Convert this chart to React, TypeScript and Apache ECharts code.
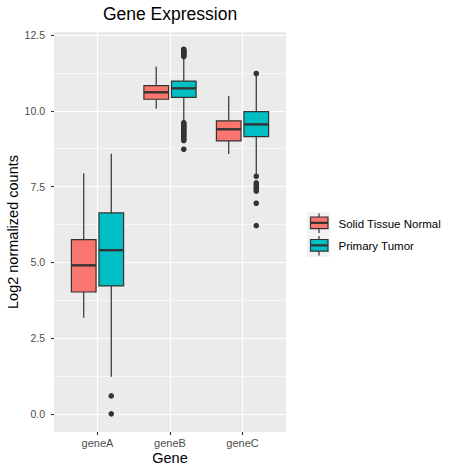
import React, { useEffect, useRef } from "react";
import * as echarts from "echarts";

const genes = ["geneA", "geneB", "geneC"];
const groups = ["Solid Tissue Normal", "Primary Tumor"];
const groupColors = ["#F8766D", "#00BFC4"];

// [lower whisker, Q1, median, Q3, upper whisker] per gene
const normalStats = [
  [3.17, 4.02, 4.9, 5.75, 7.94],
  [10.07, 10.38, 10.61, 10.83, 11.46],
  [8.57, 9.01, 9.39, 9.67, 10.49],
];
const tumorStats = [
  [1.22, 4.22, 5.4, 6.63, 8.58],
  [9.66, 10.44, 10.74, 10.98, 11.74],
  [7.9, 9.15, 9.55, 9.97, 11.15],
];
// outliers per gene
const normalOutliers: number[][] = [[], [], []];
const tumorOutliers: number[][] = [
  [0.59, 0.0],
  [12.03, 12.0, 11.97, 11.94, 11.91, 11.88, 11.85, 11.82, 11.79, 9.61, 9.57, 9.53, 9.49, 9.45, 9.41, 9.37, 9.33, 9.29, 9.25, 9.2, 9.15, 9.1, 9.06, 9.02, 8.73],
  [11.23, 7.84, 7.62, 7.55, 7.48, 7.41, 7.35, 6.95, 6.21],
];

const yMajorTicks = [0, 2.5, 5, 7.5, 10, 12.5];
const yMinorTicks = [1.25, 3.75, 6.25, 8.75, 11.25];
const xTicks = [1, 2, 3];

const FONT = "Liberation Sans, Arial, Helvetica, sans-serif";
const DODGE = 0.19;
const BOX_W = 0.34;
const DARK = "#333333";

function boxSeries(stats: number[][], gi: number) {
  const offset = gi === 0 ? -DODGE : DODGE;
  return {
    type: "custom",
    z: 5,
    silent: true,
    data: stats.map((s, i) => [i + 1, ...s]),
    renderItem: (params: any, api: any) => {
      const x = api.value(0) + offset;
      const lo = api.coord([x, api.value(1)]);
      const q1 = api.coord([x, api.value(2)]);
      const med = api.coord([x, api.value(3)]);
      const q3 = api.coord([x, api.value(4)]);
      const hi = api.coord([x, api.value(5)]);
      const w = api.size([BOX_W, 0])[0];
      const cx = lo[0];
      return {
        type: "group",
        children: [
          { type: "line", shape: { x1: cx, y1: hi[1], x2: cx, y2: q3[1] }, style: { stroke: DARK, lineWidth: 1.2 } },
          { type: "line", shape: { x1: cx, y1: q1[1], x2: cx, y2: lo[1] }, style: { stroke: DARK, lineWidth: 1.2 } },
          { type: "rect", shape: { x: cx - w / 2, y: q3[1], width: w, height: q1[1] - q3[1] }, style: { fill: groupColors[gi], stroke: DARK, lineWidth: 1.2 } },
          { type: "line", shape: { x1: cx - w / 2, y1: med[1], x2: cx + w / 2, y2: med[1] }, style: { stroke: DARK, lineWidth: 2.4 } },
        ],
      };
    },
  };
}

function outlierSeries(outs: number[][], gi: number) {
  const offset = gi === 0 ? -DODGE : DODGE;
  const data: number[][] = [];
  outs.forEach((arr, i) => arr.forEach((v) => data.push([i + 1, v])));
  if (data.length === 0) return null;
  return {
    type: "custom",
    z: 6,
    silent: true,
    data,
    renderItem: (params: any, api: any) => {
      const p = api.coord([api.value(0) + offset, api.value(1)]);
      return { type: "circle", shape: { cx: p[0], cy: p[1], r: 2.8 }, style: { fill: DARK } };
    },
  };
}

function legendKey(y0: number, color: string) {
  const x0 = 307;
  const cx = 319;
  return [
    { type: "rect", shape: { x: x0, y: y0, width: 23, height: 22.5 }, style: { fill: "#F2F2F2" } },
    { type: "line", shape: { x1: cx, y1: y0 + 1.5, x2: cx, y2: y0 + 21 }, style: { stroke: DARK, lineWidth: 1.2 } },
    { type: "rect", shape: { x: 310.5, y: y0 + 5, width: 17.5, height: 11.7 }, style: { fill: color, stroke: DARK, lineWidth: 1.2 } },
    { type: "line", shape: { x1: 310.5, y1: y0 + 10.85, x2: 328, y2: y0 + 10.85 }, style: { stroke: DARK, lineWidth: 2.2 } },
  ];
}

export default function App() {
  const ref = useRef<HTMLDivElement>(null);
  useEffect(() => {
    if (!ref.current) return;
    const chart = echarts.init(ref.current, null, { renderer: "svg" });
    const series = [
      boxSeries(normalStats, 0),
      boxSeries(tumorStats, 1),
      outlierSeries(normalOutliers, 0),
      outlierSeries(tumorOutliers, 1),
    ].filter((s) => s !== null);
    const option: any = {
      animation: false,
      backgroundColor: "#FFFFFF",
      textStyle: { fontFamily: FONT },
      tooltip: { show: false },
      grid: { left: 54, right: 172, top: 32, bottom: 42, show: true, backgroundColor: "#EBEBEB", borderWidth: 0 },
      xAxis: {
        type: "value",
        position: "bottom",
        min: 0.4,
        max: 3.6,
        axisLine: { show: false, onZero: false },
        splitLine: { show: true, lineStyle: { color: "#FFFFFF", width: 1.2 } },
        axisTick: { show: true, customValues: xTicks, length: 3, lineStyle: { color: DARK, width: 1.1 } },
        axisLabel: {
          customValues: xTicks,
          formatter: (v: number) => genes[Math.round(v) - 1] ?? "",
          color: "#4D4D4D",
          fontSize: 11,
          fontFamily: FONT,
          margin: 5,
        },
      },
      yAxis: [
        {
          type: "value",
          min: -0.6,
          max: 12.6,
          z: 1,
          axisLine: { show: false, onZero: false },
          splitLine: { show: true, lineStyle: { color: "#FFFFFF", width: 1.2 } },
          axisTick: { show: true, customValues: yMajorTicks, length: 3, lineStyle: { color: DARK, width: 1.1 } },
          axisLabel: {
            customValues: yMajorTicks,
            formatter: (v: number) => v.toFixed(1),
            color: "#4D4D4D",
            fontSize: 10.5,
            fontFamily: FONT,
            margin: 9,
          },
        },
        {
          type: "value",
          position: "left",
          min: -0.6,
          max: 12.6,
          z: 0,
          axisLine: { show: false, onZero: false },
          splitLine: { show: true, lineStyle: { color: "#FFFFFF", width: 0.6 } },
          axisTick: { show: false, customValues: yMinorTicks },
          axisLabel: { show: false, customValues: yMinorTicks },
        },
      ],
      series,
      graphic: [
        { type: "text", x: 170, y: 14, style: { text: "Gene Expression", fontSize: 17.5, fontFamily: FONT, fill: "#000000", align: "center", verticalAlign: "middle" } },
        { type: "text", x: 170, y: 458, style: { text: "Gene", fontSize: 14.5, fontFamily: FONT, fill: "#000000", align: "center", verticalAlign: "middle" } },
        { type: "text", x: 13, y: 232, rotation: Math.PI / 2, style: { text: "Log2 normalized counts", fontSize: 14.5, fontFamily: FONT, fill: "#000000", align: "center", verticalAlign: "middle" } },
        ...legendKey(212, groupColors[0]),
        ...legendKey(234.5, groupColors[1]),
        { type: "text", x: 338.5, y: 223.5, style: { text: groups[0], fontSize: 11.5, fontFamily: FONT, fill: "#000000", align: "left", verticalAlign: "middle" } },
        { type: "text", x: 338.5, y: 246, style: { text: groups[1], fontSize: 11.5, fontFamily: FONT, fill: "#000000", align: "left", verticalAlign: "middle" } },
      ],
    };
    chart.setOption(option);
    return () => chart.dispose();
  }, []);
  return <div ref={ref} style={{ position: "absolute", left: 0, top: 0, width: 458, height: 474 }} />;
}
